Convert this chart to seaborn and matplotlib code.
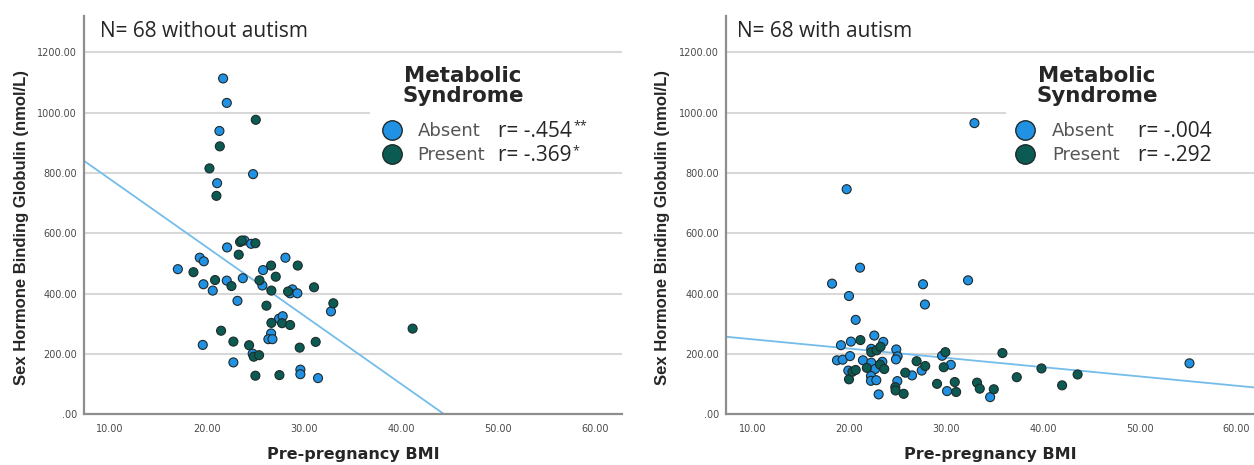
import numpy as np
import pandas as pd
import matplotlib
matplotlib.use("Agg")
import matplotlib.pyplot as plt
import seaborn as sns
from matplotlib.lines import Line2D
from matplotlib.patches import Rectangle

# ---------------- data ----------------
groups = ["Absent", "Present"]
panel_titles = ["N= 68 without autism", "N= 68 with autism"]
r_absent = ["r= -.454", "r= -.004"]
sig_absent = ["**", ""]
r_present = ["r= -.369", "r= -.292"]
sig_present = ["*", ""]

xtick_values = [10, 20, 30, 40, 50, 60]
xtick_labels = ["10.00", "20.00", "30.00", "40.00", "50.00", "60.00"]
ytick_values = [0, 200, 400, 600, 800, 1000, 1200]
ytick_labels = [".00", "200.00", "400.00", "600.00", "800.00", "1000.00", "1200.00"]
x_label = "Pre-pregnancy BMI"
y_label = "Sex Hormone Binding Globulin (nmol/L)"

# without autism
noaut_absent_bmi = [21.65, 22.03, 21.27, 24.74, 21.03, 16.98, 19.24, 19.66, 19.62, 20.58,
                    22.06, 22.03, 23.68, 23.13, 23.85, 24.54, 25.77, 25.70, 28.08, 28.80,
                    28.56, 29.31, 32.78, 27.42, 27.80, 26.60, 26.32, 26.74, 19.55, 22.71,
                    24.70, 29.62, 29.62, 31.44]
noaut_absent_shbg = [1113, 1032, 939, 796, 766, 481, 519, 507, 431, 410,
                     553, 443, 451, 376, 576, 565, 478, 427, 519, 414,
                     401, 401, 341, 317, 325, 268, 249, 249, 230, 172,
                     201, 148, 133, 120]
noaut_present_bmi = [25.02, 21.31, 20.24, 20.96, 18.59, 20.82, 22.51, 23.26, 23.40, 23.57,
                     24.98, 25.40, 26.60, 27.08, 26.63, 28.35, 29.35, 31.03, 33.02, 26.12,
                     26.63, 27.73, 28.56, 21.44, 22.71, 24.33, 24.81, 25.36, 29.55, 31.20,
                     24.98, 27.46, 41.20]
noaut_present_shbg = [976, 888, 815, 724, 471, 445, 425, 529, 571, 576,
                      567, 444, 493, 456, 410, 407, 493, 421, 368, 360,
                      303, 302, 296, 277, 241, 229, 191, 196, 221, 240,
                      128, 130, 284]

# with autism
aut_absent_bmi = [32.94, 19.75, 21.13, 18.24, 27.63, 32.28, 19.99, 27.83, 20.68, 22.60,
                  19.16, 20.19, 18.75, 19.34, 20.10, 19.92, 21.43, 22.29, 22.29, 22.68,
                  22.26, 22.26, 22.81, 23.05, 23.53, 23.43, 24.87, 25.01, 24.84, 24.98,
                  26.50, 29.60, 30.50, 30.11, 34.56, 27.50, 55.14]
aut_absent_shbg = [965, 746, 486, 433, 431, 444, 392, 364, 313, 261,
                   229, 241, 179, 181, 193, 145, 179, 217, 171, 150,
                   127, 111, 113, 66, 240, 174, 215, 192, 182, 110,
                   129, 194, 164, 77, 57, 145, 169]
aut_present_bmi = [21.17, 19.99, 20.34, 20.68, 21.83, 22.29, 22.84, 23.25, 23.19, 23.63,
                   24.77, 24.80, 25.80, 25.63, 26.97, 27.86, 29.08, 29.94, 29.77, 30.91,
                   31.05, 33.21, 33.49, 34.94, 35.83, 37.31, 39.86, 41.99, 43.59]
aut_present_shbg = [246, 116, 141, 147, 154, 206, 212, 224, 165, 150,
                    90, 79, 138, 68, 176, 160, 101, 206, 156, 107,
                    74, 105, 85, 83, 203, 123, 152, 96, 132]

# fit lines (total): intercept, slope
fit_intercepts = [1005.0, 279.5]
fit_slopes = [-22.6, -3.08]

# ---------------- style ----------------
sns.set_style("white")
plt.rcParams["font.family"] = ["DejaVu Sans"]

col_absent = "#2191e3"
col_present = "#0b5b53"
col_fit = "#74bdea"
grid_col = "#d8d8d8"
spine_col = "#8e8e8e"

fig = plt.figure(figsize=(12.54, 4.65), dpi=100)
axes = [fig.add_axes([0.067, 0.109, 0.429, 0.8566]),
        fig.add_axes([0.579, 0.109, 0.421, 0.8566])]
xlims = [(7.3, 62.8), (7.3, 61.8)]

def make_df(ab_x, ab_y, pr_x, pr_y):
    return pd.DataFrame({
        "bmi": list(ab_x) + list(pr_x),
        "shbg": list(ab_y) + list(pr_y),
        "ms": ["Absent"] * len(ab_x) + ["Present"] * len(pr_x),
    })

dfs = [make_df(noaut_absent_bmi, noaut_absent_shbg, noaut_present_bmi, noaut_present_shbg),
       make_df(aut_absent_bmi, aut_absent_shbg, aut_present_bmi, aut_present_shbg)]

# layout of legend pieces (axes fraction)
leg_cfg = [
    dict(box_x=0.532, title_x=0.7045, leg_x=0.556, pad=0.9, r_x=0.7695,
         title_text_x=0.0297, ylab_x=-0.103),
    dict(box_x=0.530, title_x=0.7027, leg_x=0.549, pad=1.0, r_x=0.780,
         title_text_x=0.0208, ylab_x=-0.106),
]

for i, ax in enumerate(axes):
    df = dfs[i]
    cfg = leg_cfg[i]
    ax.set_xlim(*xlims[i])
    ax.set_ylim(0, 1320)
    ax.set_axisbelow(True)
    ax.yaxis.grid(True, color=grid_col, lw=1.5)
    ax.xaxis.grid(False)

    # white legend area covering the grid
    ax.add_patch(Rectangle((cfg["box_x"], 0.615), 1 - cfg["box_x"], 0.287,
                           transform=ax.transAxes, facecolor="white",
                           edgecolor="none", zorder=1))

    xs = np.array(xlims[i])
    sns.lineplot(x=xs, y=fit_intercepts[i] + fit_slopes[i] * xs, ax=ax,
                 color=col_fit, lw=1.3, zorder=2)

    sns.scatterplot(data=df, x="bmi", y="shbg", hue="ms", hue_order=groups,
                    palette=[col_absent, col_present], s=42, edgecolor="#1e2a2a",
                    linewidth=0.8, legend=False, zorder=3, ax=ax)

    for side in ["top", "right"]:
        ax.spines[side].set_visible(False)
    for side in ["left", "bottom"]:
        ax.spines[side].set_color(spine_col)
        ax.spines[side].set_linewidth(1.6)

    ax.set_xticks(xtick_values)
    ax.set_xticklabels(xtick_labels)
    ax.set_yticks(ytick_values)
    ax.set_yticklabels(ytick_labels)
    ax.tick_params(axis="both", length=0, labelsize=7, labelcolor="#4a4a4a")
    ax.tick_params(axis="x", pad=7)
    ax.tick_params(axis="y", pad=5)

    ax.set_xlabel(x_label, fontsize=11.5, fontweight="bold", labelpad=9)
    ax.set_ylabel(y_label, fontsize=12, fontweight="bold", family="Liberation Sans")
    ax.yaxis.set_label_coords(cfg["ylab_x"], 0.468)

    ax.text(cfg["title_text_x"], 0.947, panel_titles[i], transform=ax.transAxes,
            family="Open Sans", fontsize=15, va="baseline", ha="left")

    # legend
    handles = [Line2D([], [], marker="o", ls="", markerfacecolor=c,
                      markeredgecolor="#1e2a2a", markeredgewidth=1.0, markersize=14)
               for c in [col_absent, col_present]]
    ax.legend(handles, groups, loc="center left",
              bbox_to_anchor=(cfg["leg_x"], 0.68), frameon=False,
              prop={"family": "DejaVu Sans", "size": 13}, labelcolor="#555555",
              handlelength=1.0, handletextpad=cfg["pad"], labelspacing=0.33,
              borderpad=0, borderaxespad=0)
    ax.text(cfg["title_x"], 0.8255, "Metabolic\nSyndrome", transform=ax.transAxes,
            ha="center", va="center", fontsize=15.4, fontweight="bold",
            linespacing=1.0)
    for rtxt, sig, yy in [(r_absent[i], sig_absent[i], 0.711),
                          (r_present[i], sig_present[i], 0.649)]:
        t = ax.text(cfg["r_x"], yy, rtxt, transform=ax.transAxes,
                    family="Open Sans", fontsize=15, va="center", ha="left")
        if sig:
            ax.annotate(sig, xy=(1.0, 1.0), xycoords=t, xytext=(1, 1),
                        textcoords="offset points", fontsize=9,
                        family="Open Sans", va="top", ha="left")

fig.savefig("out.png", dpi=100)
